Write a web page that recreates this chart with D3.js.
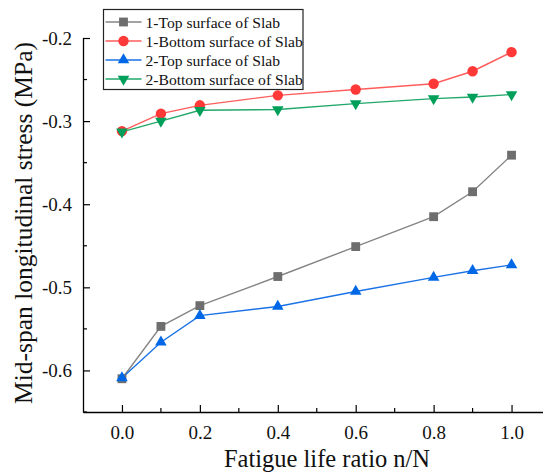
<!DOCTYPE html>
<html>
<head>
<meta charset="utf-8">
<script src="https://cdn.jsdelivr.net/npm/d3@7"></script>
<style>
  html, body { margin: 0; padding: 0; background: #fff; }
  svg { display: block; }
  text { font-family: "Liberation Serif", "Times New Roman", serif; fill: #111; }
</style>
</head>
<body>
<svg id="chart" width="543" height="475"></svg>
<script>
// Fatigue life ratio n/N
const ratios = [0.0, 0.1, 0.2, 0.4, 0.6, 0.8, 0.9, 1.0];

// Mid-span longitudinal stress (MPa)
const slab1Top    = [-0.610, -0.547, -0.522, -0.487, -0.451, -0.415, -0.385, -0.341];
const slab1Bottom = [-0.312, -0.291, -0.281, -0.269, -0.262, -0.255, -0.240, -0.217];
const slab2Top    = [-0.609, -0.566, -0.534, -0.523, -0.505, -0.488, -0.480, -0.473];
const slab2Bottom = [-0.313, -0.300, -0.287, -0.286, -0.279, -0.273, -0.271, -0.268];

const seriesNames = [
  "1-Top surface of Slab",
  "1-Bottom surface of Slab",
  "2-Top surface of Slab",
  "2-Bottom surface of Slab"
];

const xTicks = [0.0, 0.2, 0.4, 0.6, 0.8, 1.0];
const yTicks = [-0.6, -0.5, -0.4, -0.3, -0.2];

const series = [
  { name: seriesNames[0], values: slab1Top,    line: "#858585", fill: "#6e6e6e", symbol: d3.symbolSquare,   size: 78 },
  { name: seriesNames[1], values: slab1Bottom, line: "#ff5c5c", fill: "#ff3838", symbol: d3.symbolCircle,   size: 85 },
  { name: seriesNames[2], values: slab2Top,    line: "#1a72e6", fill: "#0068e6", symbol: d3.symbolTriangle, size: 58, rot: 0 },
  { name: seriesNames[3], values: slab2Bottom, line: "#22a86a", fill: "#00a05a", symbol: d3.symbolTriangle, size: 58, rot: 180 }
];

const svg = d3.select("#chart");

const x = d3.scaleLinear().domain([-0.1, 1.1]).range([83, 550.5]);
const y = d3.scaleLinear().domain([-0.65, -0.2]).range([412, 38]);

// tick labels use a plain hyphen for negatives
const fmt = d => d3.format(".1f")(d).replace("\u2212", "-");

// axes: ticks point into the plot
const xAxis = d3.axisBottom(x).tickValues(xTicks).tickFormat(fmt)
  .tickSizeInner(-7).tickSizeOuter(0).tickPadding(14);
const yAxis = d3.axisLeft(y).tickValues(yTicks).tickFormat(fmt)
  .tickSizeInner(-7).tickSizeOuter(0).tickPadding(11);

const gx = svg.append("g").attr("transform", "translate(0,412)").call(xAxis);
const gy = svg.append("g").attr("transform", "translate(83,0)").call(yAxis);

// minor ticks
const xMinor = [0.1, 0.3, 0.5, 0.7, 0.9];
gx.selectAll(".minor").data(xMinor).enter().append("line")
  .attr("x1", d => x(d)).attr("x2", d => x(d)).attr("y1", 0).attr("y2", -4)
  .attr("stroke", "#000").attr("stroke-width", 1.2);
const yMinor = [-0.65, -0.55, -0.45, -0.35, -0.25];
gy.selectAll(".minor").data(yMinor).enter().append("line")
  .attr("y1", d => y(d)).attr("y2", d => y(d)).attr("x1", 0).attr("x2", 4)
  .attr("stroke", "#000").attr("stroke-width", 1.2);

[gx, gy].forEach(g => {
  g.attr("font-family", null);
  g.select(".domain").attr("stroke", "#000").attr("stroke-width", 1.3);
  g.selectAll(".tick line").attr("stroke", "#000").attr("stroke-width", 1.2);
  g.selectAll(".tick text")
    .style("font-family", "'Liberation Serif', 'Times New Roman', serif")
    .style("font-size", "19px").attr("fill", "#111");
});

// axis titles
svg.append("text")
  .attr("x", 327).attr("y", 466.5)
  .attr("text-anchor", "middle")
  .style("font-size", "24.5px")
  .text("Fatigue life ratio n/N");

svg.append("text")
  .attr("transform", "translate(32,223) rotate(-90)")
  .attr("text-anchor", "middle")
  .style("font-size", "25.5px")
  .text("Mid-span longitudinal stress (MPa)");

// lines and markers
const lineGen = d3.line().x((d, i) => x(ratios[i])).y(d => y(d));

series.forEach(s => {
  svg.append("path")
    .attr("d", lineGen(s.values))
    .attr("fill", "none")
    .attr("stroke", s.line)
    .attr("stroke-width", 1.4);
});

series.forEach(s => {
  svg.append("g").selectAll("path").data(s.values).enter().append("path")
    .attr("d", d3.symbol().type(s.symbol).size(s.size))
    .attr("transform", (d, i) => `translate(${x(ratios[i])},${y(d)}) rotate(${s.rot || 0})`)
    .attr("fill", s.fill);
});

// legend
const legend = svg.append("g").attr("transform", "translate(103.5,9.5)");
legend.append("rect")
  .attr("width", 199.5).attr("height", 80)
  .attr("fill", "#fff").attr("stroke", "#222").attr("stroke-width", 1.2);

series.forEach((s, i) => {
  const row = legend.append("g").attr("transform", `translate(0,${12.5 + i * 19})`);
  row.append("line").attr("x1", 2).attr("x2", 38).attr("y1", 0).attr("y2", 0)
    .attr("stroke", s.line).attr("stroke-width", 1.4);
  row.append("path")
    .attr("d", d3.symbol().type(s.symbol).size(s.size))
    .attr("transform", `translate(20,0) rotate(${s.rot || 0})`)
    .attr("fill", s.fill);
  row.append("text").attr("x", 42).attr("y", 5.5)
    .style("font-size", "15.6px")
    .text(s.name);
});
</script>
</body>
</html>
